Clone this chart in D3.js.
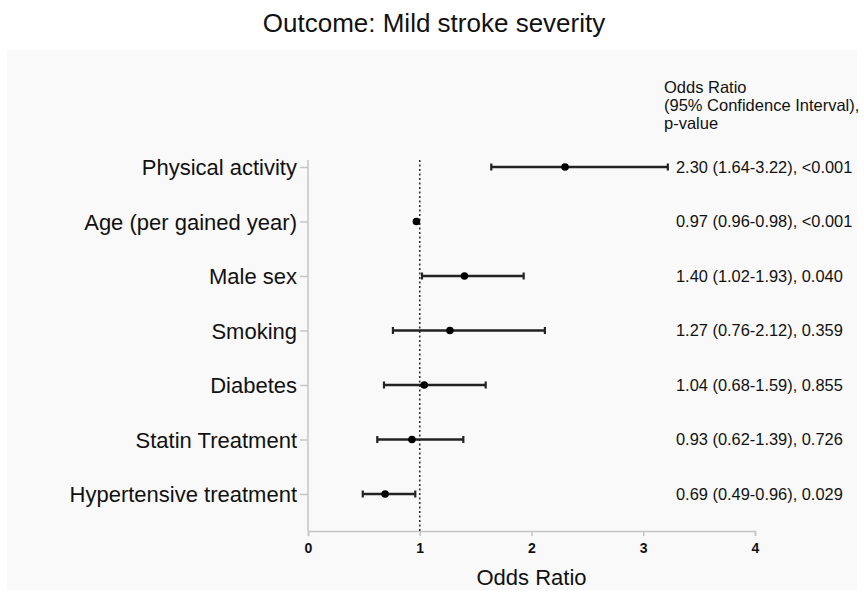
<!DOCTYPE html>
<html>
<head>
<meta charset="utf-8">
<script src="https://cdn.jsdelivr.net/npm/d3@7"></script>
<style>
  html, body { margin: 0; padding: 0; background: #ffffff; }
  svg { display: block; font-family: "Liberation Sans", Arial, sans-serif; }
</style>
</head>
<body>
<svg id="chart" width="864" height="597"></svg>
<script>
// Logistic regression results: outcome = mild stroke severity
const categories = [
  "Physical activity",
  "Age (per gained year)",
  "Male sex",
  "Smoking",
  "Diabetes",
  "Statin Treatment",
  "Hypertensive treatment"
];
const oddsRatio = [2.30, 0.97, 1.40, 1.27, 1.04, 0.93, 0.69];
const ciLower   = [1.64, 0.96, 1.02, 0.76, 0.68, 0.62, 0.49];
const ciUpper   = [3.22, 0.98, 1.93, 2.12, 1.59, 1.39, 0.96];
const pValues   = ["<0.001", "<0.001", "0.040", "0.359", "0.855", "0.726", "0.029"];
const xTicks    = [0, 1, 2, 3, 4];
const headerLines = ["Odds Ratio", "(95% Confidence Interval),", "p-value"];

const svg = d3.select("#chart");

// panel background
svg.append("rect")
  .attr("x", 7).attr("y", 50).attr("width", 850).attr("height", 540)
  .attr("fill", "#f9f9f9");

// title
svg.append("text")
  .attr("x", 434).attr("y", 32)
  .attr("text-anchor", "middle")
  .attr("font-size", 26)
  .attr("fill", "#111")
  .text("Outcome: Mild stroke severity");

const x = d3.scaleLinear().domain([0, 4]).range([308, 755]);
const y = d3.scalePoint().domain(categories).range([167, 494]);

const axisColor = "#c4c4c4";

// x axis
const gx = svg.append("g").attr("transform", "translate(0,531)")
  .call(d3.axisBottom(x).tickValues(xTicks).tickFormat(d3.format("d")).tickSize(5).tickPadding(7));
gx.select(".domain").attr("stroke", axisColor).attr("stroke-width", 1.5);
gx.selectAll(".tick line").attr("stroke", axisColor).attr("stroke-width", 1.5);
gx.selectAll(".tick text")
  .attr("font-size", 14).attr("font-weight", "bold").attr("fill", "#111")
  .attr("font-family", "'Liberation Sans', Arial, sans-serif");

// y axis
const gy = svg.append("g").attr("transform", "translate(308,0)")
  .call(d3.axisLeft(y).tickSize(8).tickPadding(3).tickSizeOuter(0));
gy.select(".domain").attr("stroke", axisColor).attr("stroke-width", 1.5)
  .attr("d", "M0,160V531");
gy.selectAll(".tick line").attr("stroke", axisColor).attr("stroke-width", 1.5);
gy.selectAll(".tick text")
  .attr("font-size", 22).attr("fill", "#111")
  .attr("dy", "0.35em")
  .attr("font-family", "'Liberation Sans', Arial, sans-serif");

// reference line at OR = 1
svg.append("line")
  .attr("x1", x(1)).attr("x2", x(1))
  .attr("y1", 160).attr("y2", 531)
  .attr("stroke", "#333").attr("stroke-width", 1.6)
  .attr("stroke-dasharray", "2,2.5");

// x axis title
svg.append("text")
  .attr("x", (x(0) + x(4)) / 2).attr("y", 585)
  .attr("text-anchor", "middle")
  .attr("font-size", 22).attr("fill", "#111")
  .text("Odds Ratio");

const rows = categories.map((c, i) => ({
  c, or: oddsRatio[i], lo: ciLower[i], hi: ciUpper[i], p: pValues[i]
}));

const g = svg.append("g");
const capH = 3.5;
rows.forEach(d => {
  const yy = y(d.c);
  if (d.hi - d.lo > 0.03) {
    g.append("line")
      .attr("x1", x(d.lo)).attr("x2", x(d.hi))
      .attr("y1", yy).attr("y2", yy)
      .attr("stroke", "#222").attr("stroke-width", 2.4);
    [d.lo, d.hi].forEach(v => {
      g.append("line")
        .attr("x1", x(v)).attr("x2", x(v))
        .attr("y1", yy - capH).attr("y2", yy + capH)
        .attr("stroke", "#222").attr("stroke-width", 2.2);
    });
  }
  g.append("circle")
    .attr("cx", x(d.or)).attr("cy", yy).attr("r", 3.8)
    .attr("fill", "#000");
});

// value annotations
const fmt = d3.format(".2f");
svg.append("g").selectAll("text").data(rows).join("text")
  .attr("x", 676).attr("y", d => y(d.c))
  .attr("dy", "0.35em")
  .attr("font-size", 16.4).attr("fill", "#111")
  .text(d => `${fmt(d.or)} (${fmt(d.lo)}-${fmt(d.hi)}), ${d.p}`);

// annotation header
svg.append("g").selectAll("text").data(headerLines).join("text")
  .attr("x", 664).attr("y", (d, i) => 93 + i * 18)
  .attr("font-size", 16.5).attr("fill", "#111")
  .text(d => d);
</script>
</body>
</html>
